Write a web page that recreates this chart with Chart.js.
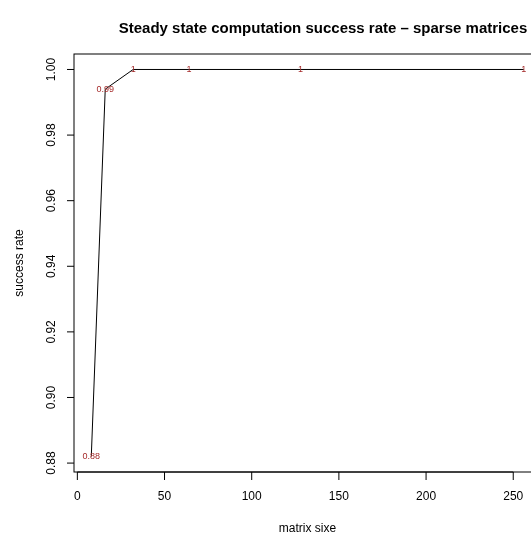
<!DOCTYPE html>
<html>
<head>
<meta charset="utf-8">
<script src="https://cdn.jsdelivr.net/npm/chart.js@4"></script>
<style>
    html, body { margin: 0; padding: 0; background: #fff; overflow: hidden; }
    #wrap { width: 531px; height: 535px; overflow: hidden; }
</style>
</head>
<body>
<div id="wrap"><canvas id="rateChart" width="550" height="535"></canvas></div>
<script>
const matrixSizes = [8, 16, 32, 64, 128, 256];
const successRates = [0.882, 0.994, 1, 1, 1, 1];
const pointLabels = ["0.88", "0.99", "1", "1", "1", "1"];
const xTicks = [0, 50, 100, 150, 200, 250];
const yTicks = [0.88, 0.9, 0.92, 0.94, 0.96, 0.98, 1.0];

const FONT = "'Liberation Sans', Arial, Helvetica, sans-serif";

// R-style frame, axes and text, drawn on top of the line
const rPlotDecor = {
    id: "rPlotDecor",
    afterDraw(chart) {
        const ctx = chart.ctx;
        const area = chart.chartArea;
        const xs = chart.scales.x;
        const ys = chart.scales.y;
        ctx.save();
        ctx.strokeStyle = "#000";
        ctx.lineWidth = 1;

        // box
        ctx.strokeRect(area.left, area.top, area.right - area.left, area.bottom - area.top);

        // x axis
        ctx.beginPath();
        ctx.moveTo(xs.getPixelForValue(xTicks[0]), area.bottom);
        ctx.lineTo(xs.getPixelForValue(xTicks[xTicks.length - 1]), area.bottom);
        xTicks.forEach(v => {
            const px = xs.getPixelForValue(v);
            ctx.moveTo(px, area.bottom);
            ctx.lineTo(px, area.bottom + 8);
        });
        ctx.stroke();

        ctx.fillStyle = "#000";
        ctx.font = "12px " + FONT;
        ctx.textAlign = "center";
        ctx.textBaseline = "middle";
        xTicks.forEach(v => {
            ctx.fillText(String(v), xs.getPixelForValue(v), 497);
        });

        // y axis
        ctx.beginPath();
        yTicks.forEach(v => {
            const py = ys.getPixelForValue(v);
            ctx.moveTo(area.left, py);
            ctx.lineTo(area.left - 7, py);
        });
        ctx.stroke();
        yTicks.forEach(v => {
            ctx.save();
            ctx.translate(51.5, ys.getPixelForValue(v));
            ctx.rotate(-Math.PI / 2);
            ctx.fillText(v.toFixed(2), 0, 0);
            ctx.restore();
        });

        // axis titles
        const midX = (area.left + area.right) / 2;
        const midY = (area.top + area.bottom) / 2;
        ctx.fillText("matrix sixe", midX, 529);
        ctx.save();
        ctx.translate(20, midY);
        ctx.rotate(-Math.PI / 2);
        ctx.fillText("success rate", 0, 0);
        ctx.restore();

        // main title
        ctx.font = "bold 15px " + FONT;
        ctx.fillText("Steady state computation success rate \u2013 sparse matrices", 323, 29);

        // value labels at the points
        ctx.fillStyle = "#a52a2a";
        ctx.font = "9px " + FONT;
        matrixSizes.forEach((s, i) => {
            ctx.fillText(pointLabels[i], xs.getPixelForValue(s), ys.getPixelForValue(successRates[i]));
        });
        ctx.restore();
    },
};

const yPad = (Math.max(...successRates) - Math.min(...successRates)) * 0.04;
const xPad = (Math.max(...matrixSizes) - Math.min(...matrixSizes)) * 0.04;

new Chart(document.getElementById("rateChart"), {
    type: "line",
    data: {
        datasets: [
            {
                label: "success rate",
                data: matrixSizes.map((s, i) => ({ x: s, y: successRates[i] })),
                borderColor: "#000",
                borderWidth: 1,
                pointRadius: 0,
                tension: 0,
                fill: false,
            },
        ],
    },
    options: {
        responsive: false,
        animation: false,
        devicePixelRatio: 1,
        layout: {
            padding: { left: 74, right: 9, top: 54, bottom: 63 },
        },
        plugins: {
            legend: { display: false },
            title: { display: false },
            tooltip: { enabled: false },
        },
        scales: {
            x: {
                type: "linear",
                display: false,
                min: Math.min(...matrixSizes) - xPad,
                max: Math.max(...matrixSizes) + xPad,
            },
            y: {
                type: "linear",
                display: false,
                min: Math.min(...successRates) - yPad,
                max: Math.max(...successRates) + yPad,
            },
        },
    },
    plugins: [rPlotDecor],
});
</script>
</body>
</html>
